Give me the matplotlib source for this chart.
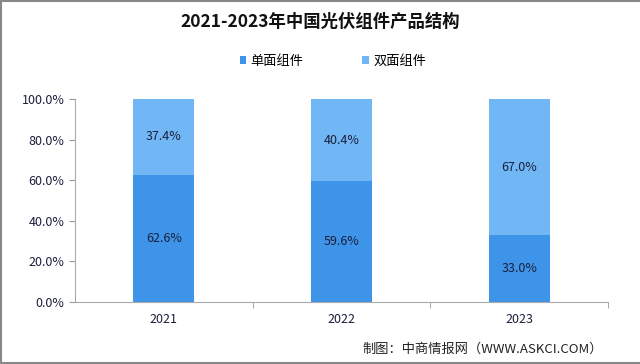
import matplotlib
matplotlib.use("Agg")
import matplotlib.pyplot as plt
from matplotlib.lines import Line2D
from matplotlib.ticker import FixedLocator, PercentFormatter

plt.rcParams["font.family"] = ["Noto Sans CJK SC", "DejaVu Sans"]

years = ["2021", "2022", "2023"]
single = [62.6, 59.6, 33.0]
bifacial = [37.4, 40.4, 67.0]
labels = ["单面组件", "双面组件"]
C_SINGLE, C_BI = "#3D94E9", "#72B7F5"
TXT = "#1b1f3b"

fig = plt.figure(figsize=(6.4, 3.64), dpi=100)
ax = fig.add_axes([0.117, 0.170, 0.833, 0.558])

x = range(len(years))
w = 0.343
b1 = ax.bar(x, single, w, color=C_SINGLE, label=labels[0])
b2 = ax.bar(x, bifacial, w, bottom=single, color=C_BI, label=labels[1])
for i in x:
    ax.text(i, single[i] / 2, f"{single[i]:.1f}%", ha="center", va="center",
            fontsize=9, color=TXT)
    ax.text(i, single[i] + bifacial[i] / 2, f"{bifacial[i]:.1f}%",
            ha="center", va="center", fontsize=9, color=TXT)

ax.set_xlim(-0.5, 2.5)
ax.set_ylim(0, 100)
ax.yaxis.set_major_locator(FixedLocator([0, 20, 40, 60, 80, 100]))
ax.yaxis.set_major_formatter(PercentFormatter(decimals=1))
ax.set_xticks([0, 1, 2])
ax.set_xticklabels(years)
ax.set_xticks([0.5, 1.5, 2.5], minor=True)
ax.tick_params(axis="x", which="major", length=0, labelsize=9, pad=8,
               colors=TXT)
ax.tick_params(axis="x", which="minor", length=4, color="#999999")
ax.tick_params(axis="y", length=4, color="#999999", labelsize=9, colors=TXT)
for s in ("top", "right"):
    ax.spines[s].set_visible(False)
for s in ("left", "bottom"):
    ax.spines[s].set_color("#aaaaaa")

fig.text(0.5, 0.94, "2021-2023年中国光伏组件产品结构", ha="center",
         va="center", fontsize=12.5, fontweight="bold", color="#111111")
fig.legend(handles=[b1, b2], loc="center", bbox_to_anchor=(0.52, 0.832),
           ncol=2, frameon=False, fontsize=9.5, handlelength=0.5,
           handleheight=0.5, columnspacing=4.5, handletextpad=0.3)
fig.text(0.942, 0.041, "制图：中商情报网（WWW.ASKCI.COM）", ha="right",
         va="center", fontsize=9.5, color="#222222")
# gray frame on left, top and bottom edges
for xs, ys in (([0.002, 0.002], [0, 1]), ([0, 1], [0.997, 0.997]),
               ([0, 1], [0.004, 0.004])):
    fig.add_artist(Line2D(xs, ys, transform=fig.transFigure,
                          color="#888888", lw=1.5))

fig.savefig("out.png", dpi=100)
